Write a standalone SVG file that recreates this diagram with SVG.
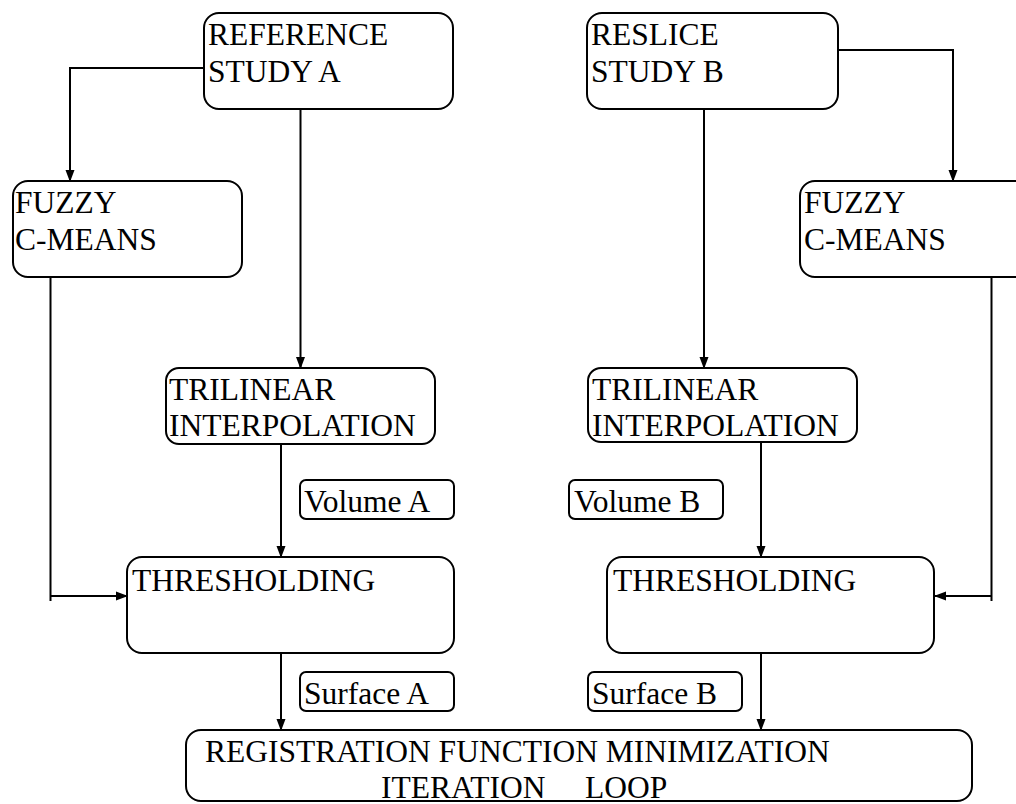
<svg xmlns="http://www.w3.org/2000/svg" width="1016" height="804" viewBox="0 0 1016 804">
<defs>
<marker id="ah" markerWidth="12" markerHeight="12" refX="11" refY="6" orient="auto" markerUnits="userSpaceOnUse">
<path d="M0,1.5 L12,6 L0,10.5 Z" fill="#000"/>
</marker>
</defs>
<rect width="1016" height="804" fill="#fff"/>
<g id="connectors" fill="none" stroke="#000" stroke-width="2">
<path d="M204,68 H70 V181" marker-end="url(#ah)"/>
<path d="M300.5,105 V368" marker-end="url(#ah)"/>
<path d="M50.5,273 V601 M50.5,596 H127" marker-end="url(#ah)"/>
<path d="M281,444 V557" marker-end="url(#ah)"/>
<path d="M281,653 V730" marker-end="url(#ah)"/>
<path d="M838,50 H953 V181" marker-end="url(#ah)"/>
<path d="M704,105 V368" marker-end="url(#ah)"/>
<path d="M991.5,273 V601 M991.5,596 H935" marker-end="url(#ah)"/>
<path d="M761,442 V557" marker-end="url(#ah)"/>
<path d="M761,653 V730" marker-end="url(#ah)"/>
</g>
<g id="refA">
<rect x="204" y="13" width="249" height="96" rx="15" fill="#fff" stroke="#000" stroke-width="2"/>
<text x="208" y="45" font-family="Liberation Serif" font-size="31.5">REFERENCE</text>
<text x="208" y="82" font-family="Liberation Serif" font-size="31.5">STUDY A</text>
</g>
<g id="fuzzyA">
<rect x="13" y="181" width="229" height="96" rx="15" fill="#fff" stroke="#000" stroke-width="2"/>
<text x="15" y="213" font-family="Liberation Serif" font-size="31.5">FUZZY</text>
<text x="15" y="250" font-family="Liberation Serif" font-size="31.5">C-MEANS</text>
</g>
<g id="trilinearA">
<rect x="166" y="368" width="269" height="76" rx="13" fill="#fff" stroke="#000" stroke-width="2"/>
<text x="169" y="400" font-family="Liberation Serif" font-size="31.5">TRILINEAR</text>
<text x="169" y="436" font-family="Liberation Serif" font-size="31.5">INTERPOLATION</text>
</g>
<g id="volumeA">
<rect x="300" y="480" width="154" height="39" rx="6" fill="#fff" stroke="#000" stroke-width="2"/>
<text x="304" y="512" font-family="Liberation Serif" font-size="31.5">Volume A</text>
</g>
<g id="threshA">
<rect x="127" y="557" width="327" height="96" rx="15" fill="#fff" stroke="#000" stroke-width="2"/>
<text x="132" y="591" font-family="Liberation Serif" font-size="31.5">THRESHOLDING</text>
</g>
<g id="surfaceA">
<rect x="300" y="672" width="154" height="39" rx="6" fill="#fff" stroke="#000" stroke-width="2"/>
<text x="304" y="704" font-family="Liberation Serif" font-size="31.5">Surface A</text>
</g>
<g id="resliceB">
<rect x="587" y="13" width="251" height="96" rx="15" fill="#fff" stroke="#000" stroke-width="2"/>
<text x="591" y="45" font-family="Liberation Serif" font-size="31.5">RESLICE</text>
<text x="591" y="82" font-family="Liberation Serif" font-size="31.5">STUDY B</text>
</g>
<g id="fuzzyB">
<rect x="800" y="181" width="240" height="96" rx="15" fill="#fff" stroke="#000" stroke-width="2"/>
<text x="804" y="213" font-family="Liberation Serif" font-size="31.5">FUZZY</text>
<text x="804" y="250" font-family="Liberation Serif" font-size="31.5">C-MEANS</text>
</g>
<g id="trilinearB">
<rect x="588" y="368" width="269" height="74" rx="13" fill="#fff" stroke="#000" stroke-width="2"/>
<text x="592" y="400" font-family="Liberation Serif" font-size="31.5">TRILINEAR</text>
<text x="592" y="436" font-family="Liberation Serif" font-size="31.5">INTERPOLATION</text>
</g>
<g id="volumeB">
<rect x="569" y="480" width="154" height="39" rx="6" fill="#fff" stroke="#000" stroke-width="2"/>
<text x="574" y="512" font-family="Liberation Serif" font-size="31.5">Volume B</text>
</g>
<g id="threshB">
<rect x="607" y="557" width="327" height="96" rx="15" fill="#fff" stroke="#000" stroke-width="2"/>
<text x="613" y="591" font-family="Liberation Serif" font-size="31.5">THRESHOLDING</text>
</g>
<g id="surfaceB">
<rect x="588" y="672" width="154" height="39" rx="6" fill="#fff" stroke="#000" stroke-width="2"/>
<text x="592" y="704" font-family="Liberation Serif" font-size="31.5">Surface B</text>
</g>
<g id="registration">
<rect x="186" y="730" width="786" height="71" rx="15" fill="#fff" stroke="#000" stroke-width="2"/>
<text x="205" y="762" font-family="Liberation Serif" font-size="31.5">REGISTRATION FUNCTION MINIMIZATION</text>
<text x="381" y="798" font-family="Liberation Serif" font-size="31.5">ITERATION</text>
<text x="585" y="798" font-family="Liberation Serif" font-size="31.5">LOOP</text>
</g>
</svg>
